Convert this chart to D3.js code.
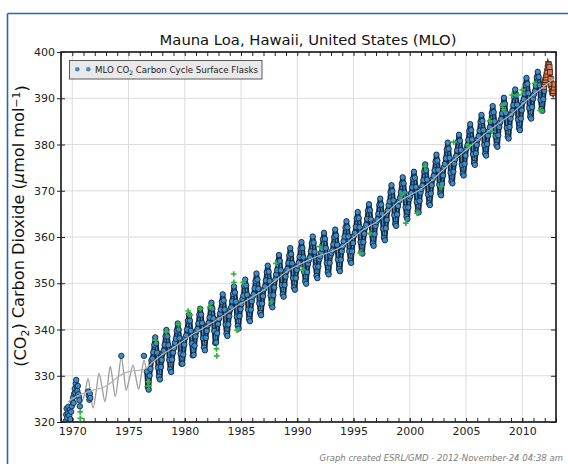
<!DOCTYPE html>
<html><head><meta charset="utf-8">
<script src="https://cdn.jsdelivr.net/npm/d3@7"></script>
<style>body{margin:0;background:#fff}svg{display:block}</style>
</head><body>
<svg id="c" width="568" height="464"></svg>
<script>
// ---------------- data ----------------
const xTickYears = [1970, 1975, 1980, 1985, 1990, 1995, 2000, 2005, 2010];
const yTicks = [320, 330, 340, 350, 360, 370, 380, 390, 400];

const flaskYears = [1976,1977,1978,1979,1980,1981,1982,1983,1984,1985,1986,1987,1988,1989,1990,1991,1992,1993,1994,1995,1996,1997,1998,1999,2000,2001,2002,2003,2004,2005,2006,2007,2008,2009,2010,2011];
const flaskMonthly = [
[null,null,null,null,334.3,null,null,330.9,327.6,327.0,330.0,331.5],
[333.3,333.7,335.1,336.7,338.3,337.0,335.0,331.8,329.8,329.2,331.9,333.4],
[334.9,335.4,336.7,338.5,339.9,338.5,336.6,333.4,331.4,330.8,333.5,335.0],
[336.0,337.1,338.0,339.7,341.3,340.0,338.1,334.8,332.6,332.6,334.6,336.7],
[338.2,338.7,340.0,341.9,343.2,341.9,339.7,337.0,334.4,334.5,336.5,338.5],
[339.6,340.1,341.3,343.2,344.5,343.2,341.4,338.1,336.1,335.5,338.2,339.7],
[340.9,341.4,342.6,344.6,345.8,344.5,342.4,339.7,337.1,337.2,339.2,341.2],
[342.3,343.4,344.3,346.0,347.6,346.3,344.3,341.1,339.1,338.6,341.1,342.9],
[344.3,344.8,346.1,347.7,349.3,348.0,346.0,342.8,340.8,340.2,342.9,344.4],
[345.5,346.6,347.3,349.4,350.8,349.5,347.5,344.3,342.3,341.8,344.3,346.1],
[347.1,347.6,348.9,350.5,352.1,350.8,348.8,345.6,343.6,343.1,345.6,347.2],
[348.7,349.3,350.6,352.4,353.8,352.5,350.5,347.4,345.3,344.8,347.4,349.1],
[350.8,351.9,352.8,354.7,356.1,354.8,352.8,349.6,347.6,347.1,349.6,351.4],
[352.6,353.1,354.4,356.0,357.6,356.3,354.3,351.1,349.1,348.6,351.1,352.9],
[353.8,354.4,355.7,357.5,358.9,357.6,355.6,352.4,350.4,349.9,352.4,354.2],
[355.0,355.6,356.9,358.7,360.1,358.8,356.8,353.6,351.6,351.1,353.6,355.2],
[355.8,356.6,357.4,359.5,360.9,359.6,357.6,354.4,352.4,351.9,354.4,356.0],
[356.5,357.1,358.4,360.0,361.6,360.3,358.3,355.1,353.1,352.6,355.1,356.9],
[358.0,359.1,360.1,362.0,363.4,362.1,360.1,356.9,354.9,354.4,356.9,358.7],
[360.3,360.9,362.2,364.0,365.4,364.1,362.1,358.9,356.9,356.4,358.9,360.7],
[362.0,362.6,363.9,365.7,367.1,365.8,363.8,360.6,358.6,358.1,360.6,362.4],
[363.2,363.8,365.0,366.9,368.3,367.0,365.0,361.8,359.8,359.3,361.9,363.7],
[365.7,366.8,367.7,369.7,371.2,369.9,367.9,364.7,362.8,362.4,364.9,366.7],
[367.8,368.4,369.7,371.5,372.9,371.6,369.6,366.4,364.4,363.9,366.4,368.2],
[368.8,369.5,370.7,372.6,374.1,372.8,370.8,367.6,365.7,365.3,367.8,369.6],
[370.4,371.1,372.3,374.2,375.7,374.4,372.4,369.2,367.3,366.9,369.4,371.2],
[372.5,373.2,374.4,376.3,377.8,376.5,374.5,371.3,369.4,369.0,371.5,373.3],
[375.1,375.8,377.0,378.9,380.4,379.1,377.1,373.9,372.0,371.6,374.1,375.9],
[376.8,377.5,378.7,380.6,382.1,380.8,378.8,375.6,373.7,373.3,375.8,377.6],
[379.1,379.8,381.0,382.9,384.4,383.1,381.1,377.9,376.0,375.6,378.1,379.9],
[381.1,381.8,383.0,384.9,386.4,385.1,383.1,379.9,378.0,377.6,380.1,381.9],
[383.0,383.7,384.9,386.8,388.3,387.0,385.0,381.8,379.9,379.5,382.0,383.8],
[384.8,385.5,386.7,388.6,390.1,388.8,386.8,383.6,381.7,381.3,383.8,385.6],
[386.6,387.3,388.5,390.4,391.9,390.6,388.6,385.4,383.5,383.1,385.6,387.4],
[389.1,389.8,391.0,392.9,394.4,393.1,391.1,387.9,386.0,385.6,388.1,389.9],
[390.8,391.5,392.7,394.5,395.7,394.6,392.8,389.6,387.7,387.3,389.8,391.6]
];

// early, irregular flask samples [decimal year, ppm]
const earlyFlask = [
[1969.42,320.2],[1969.46,321.6],[1969.50,322.9],[1969.55,320.9],[1969.60,321.9],[1969.66,323.3],
[1969.72,321.4],[1969.78,322.6],[1969.84,320.6],[1969.90,322.2],[1969.96,323.4],
[1970.02,324.4],[1970.07,325.3],[1970.12,324.1],[1970.17,326.1],[1970.22,327.2],[1970.27,326.3],
[1970.31,328.3],[1970.35,329.1],[1970.40,327.6],[1970.45,326.7],[1970.50,327.8],[1970.55,326.0],
[1970.60,325.4],[1970.64,324.7],[1970.68,323.4],
[1971.42,326.6],[1971.47,325.7],[1971.52,324.8],[1971.57,326.1],[1971.60,325.2],
[1974.36,334.3]
];

// preliminary samples (orange squares)
const prelimFlask = [
[2011.92,392.4],[2011.97,393.1],[2012.02,393.6],[2012.07,394.0],[2012.12,394.5],[2012.17,395.1],
[2012.22,395.8],[2012.27,396.6],[2012.32,397.4],[2012.37,397.1],[2012.42,396.7],[2012.47,395.6],
[2012.52,394.2],[2012.57,392.9],[2012.62,392.0],[2012.67,391.4],[2012.72,391.1],[2012.77,391.6],
[2012.82,392.3],[2012.87,393.0]
];

// flagged samples (green plus)
const flaggedFlask = [
[1970.70,322.2],[1970.72,320.8],[1976.75,328.7],[1976.78,327.8],[1977.40,337.7],[1978.35,339.5],
[1979.45,341.1],[1980.30,344.0],[1980.50,343.1],[1981.40,344.5],[1982.25,344.9],[1982.82,335.8],
[1982.85,334.3],[1984.35,352.0],[1984.37,350.2],[1984.65,339.8],[1985.20,350.2],[1987.70,346.0],
[1988.10,354.3],[1990.50,352.9],[1992.00,357.9],[1995.60,356.5],[1996.45,360.8],[1999.30,369.1],
[1999.65,363.0],[2000.65,365.1],[2001.35,375.2],[2002.80,370.9],[2003.90,380.5],[2005.20,379.9],
[2007.10,385.1],[2007.30,382.8],[2008.20,388.5],[2008.35,387.5],[2009.10,390.7],[2009.65,390.7],
[2010.00,391.8],[2011.10,393.2],[2011.60,387.3]
];

// smooth seasonal fit visible in the data gap
const fitCurve = [
[1970.55,327.0],[1970.80,324.2],[1971.10,326.0],[1971.40,329.4],[1971.62,326.4],[1971.85,323.0],
[1972.12,326.5],[1972.38,330.5],[1972.64,327.6],[1972.90,324.4],[1973.14,328.0],[1973.38,332.0],
[1973.60,328.9],[1973.83,325.5],[1974.10,329.8],[1974.36,334.1],[1974.58,330.6],[1974.80,326.9],
[1975.10,329.6],[1975.40,332.3],[1975.65,329.7],[1975.90,327.1],[1976.14,330.2],[1976.38,333.4],
[1976.60,331.0],[1976.80,328.4]
];

// long-term trend
const trendCurve = [
[1969.6,324.4],[1970.0,325.0],[1970.5,325.7],[1971.0,326.2],[1971.5,326.6],[1972.0,327.0],[1972.5,327.3],
[1973.0,327.8],[1973.5,328.6],[1974.0,329.6],[1974.5,330.4],[1975.0,330.9],[1975.5,331.1],[1976.0,331.2],
[1976.5,331.5],[1977.0,332.6],[1978,334.6],[1979,336.1],[1980,337.8],[1981,339.4],[1982,340.8],[1983,342.3],
[1984,344.0],[1985,345.6],[1986,347.0],[1987,348.5],[1988,350.5],[1989,352.4],[1990,353.8],[1991,355.0],
[1992,356.0],[1993,356.8],[1994,358.0],[1995,359.9],[1996,361.8],[1997,363.2],[1998,365.3],[1999,367.6],
[2000,369.0],[2001,370.4],[2002,372.3],[2003,374.6],[2004,376.8],[2005,378.8],[2006,380.9],[2007,382.9],
[2008,384.7],[2009,386.5],[2010,388.7],[2011,390.8],[2012,392.7],[2012.9,394.4]
];

// ---------------- drawing ----------------
const W = 568, H = 464;
const M = {l: 61, r: 556, t: 52, b: 422};
const FONT = "'DejaVu Sans', Verdana, sans-serif";
const svg = d3.select('#c');

const x = d3.scaleLinear().domain([1969, 2013]).range([M.l, M.r]);
const y = d3.scaleLinear().domain([320, 400]).range([M.b, M.t]);

function fit(sel, target) {
  const w = sel.node().getBBox().width;
  const s = parseFloat(sel.style('font-size'));
  sel.style('font-size', (s * target / w) + 'px');
}

// outer blue frame
svg.append('line').attr('x1', 7.5).attr('x2', W).attr('y1', 13.5).attr('y2', 13.5)
  .attr('stroke', '#2a62c4').attr('stroke-width', 1.6);
svg.append('line').attr('x1', 7.5).attr('x2', 7.5).attr('y1', 13.5).attr('y2', H)
  .attr('stroke', '#2a62c4').attr('stroke-width', 1.6);

// grid
const grid = svg.append('g').attr('stroke', '#dcdcdc').attr('stroke-width', 1);
grid.selectAll('.gx').data(xTickYears).join('line')
  .attr('x1', d => x(d)).attr('x2', d => x(d)).attr('y1', M.t).attr('y2', M.b);
grid.selectAll('.gy').data(yTicks).join('line')
  .attr('x1', M.l).attr('x2', M.r).attr('y1', d => y(d)).attr('y2', d => y(d));

// clip
svg.append('clipPath').attr('id', 'clip').append('rect')
  .attr('x', M.l).attr('y', M.t).attr('width', M.r - M.l).attr('height', M.b - M.t);
const plot = svg.append('g').attr('clip-path', 'url(#clip)');

// seasonal fit in gap
plot.append('path').datum(fitCurve)
  .attr('d', d3.line().x(d => x(d[0])).y(d => y(d[1])).curve(d3.curveCatmullRom.alpha(0.5)))
  .attr('fill', 'none').attr('stroke', '#9c9c9c').attr('stroke-width', 1.3);

// monthly flask points
const flaskPts = [];
flaskYears.forEach((yr, i) => flaskMonthly[i].forEach((v, j) => flaskPts.push({t: yr + (j + 0.5) / 12, v})));

const BLUE = '#3a8dca', EDGE = '#17263a';
const monthLine = d3.line().defined(d => d.v != null).x(d => x(d.t)).y(d => y(d.v));
plot.append('path').datum(flaskPts).attr('d', monthLine)
  .attr('fill', 'none').attr('stroke', EDGE).attr('stroke-width', 5).attr('stroke-linejoin', 'round');
plot.append('path').datum(flaskPts).attr('d', monthLine)
  .attr('fill', 'none').attr('stroke', BLUE).attr('stroke-width', 1.4).attr('stroke-linejoin', 'round');

plot.selectAll('.fp').data(flaskPts.filter(d => d.v != null)).join('circle')
  .attr('cx', d => x(d.t)).attr('cy', d => y(d.v)).attr('r', 2.7)
  .attr('fill', BLUE).attr('stroke', EDGE).attr('stroke-width', 0.9);

plot.selectAll('.ep').data(earlyFlask).join('circle')
  .attr('cx', d => x(d[0])).attr('cy', d => y(d[1])).attr('r', 2.7)
  .attr('fill', BLUE).attr('stroke', EDGE).attr('stroke-width', 0.9);

// preliminary (orange squares)
plot.append('path').datum(prelimFlask)
  .attr('d', d3.line().x(d => x(d[0])).y(d => y(d[1])))
  .attr('fill', 'none').attr('stroke', '#3a2418').attr('stroke-width', 3.5);
plot.selectAll('.pp').data(prelimFlask).join('rect')
  .attr('x', d => x(d[0]) - 2.6).attr('y', d => y(d[1]) - 2.6).attr('width', 5.2).attr('height', 5.2)
  .attr('fill', '#dc7850').attr('stroke', '#3a2418').attr('stroke-width', 0.8);

// flagged (green plus)
plot.selectAll('.gp').data(flaggedFlask).join('path')
  .attr('transform', d => `translate(${x(d[0])},${y(d[1])})`)
  .attr('d', 'M-2.8,0H2.8M0,-2.8V2.8')
  .attr('stroke', '#2fb53c').attr('stroke-width', 1.7).attr('fill', 'none');

// trend on top
plot.append('path').datum(trendCurve)
  .attr('d', d3.line().x(d => x(d[0])).y(d => y(d[1])).curve(d3.curveMonotoneX))
  .attr('fill', 'none').attr('stroke', '#b4b4b4').attr('stroke-width', 1.2);

// axes
const axisColor = '#222';
const minorYears = d3.range(1969, 2014);
function styleAxis(g) {
  g.select('.domain').remove();
  g.selectAll('line').attr('stroke', axisColor).attr('stroke-width', 1);
  g.selectAll('text').style('font-family', FONT).style('font-size', '11px').attr('fill', '#222');
}
svg.append('g').attr('transform', `translate(0,${M.b})`)
  .call(d3.axisBottom(x).tickValues(minorYears).tickSizeInner(-4).tickSizeOuter(0).tickFormat(''))
  .call(styleAxis);
svg.append('g').attr('transform', `translate(0,${M.b})`)
  .call(d3.axisBottom(x).tickValues(xTickYears).tickSizeInner(-4).tickSizeOuter(0).tickPadding(5).tickFormat(d3.format('d')))
  .call(styleAxis);
svg.append('g').attr('transform', `translate(0,${M.t})`)
  .call(d3.axisTop(x).tickValues(minorYears).tickSizeInner(-4).tickSizeOuter(0).tickFormat(''))
  .call(styleAxis);
svg.append('g').attr('transform', `translate(${M.l},0)`)
  .call(d3.axisLeft(y).tickValues(yTicks).tickSizeInner(4).tickSizeOuter(0).tickPadding(2).tickFormat(d3.format('d')))
  .call(styleAxis);
svg.append('g').attr('transform', `translate(${M.l},0)`)
  .call(d3.axisLeft(y).tickValues(yTicks).tickSizeInner(-4).tickSizeOuter(0).tickFormat(''))
  .call(styleAxis);
svg.append('g').attr('transform', `translate(${M.r},0)`)
  .call(d3.axisRight(y).tickValues(yTicks).tickSizeInner(-5).tickSizeOuter(0).tickFormat(''))
  .call(styleAxis);

svg.append('rect').attr('x', M.l).attr('y', M.t).attr('width', M.r - M.l).attr('height', M.b - M.t)
  .attr('fill', 'none').attr('stroke', axisColor).attr('stroke-width', 1.7);

// legend
svg.append('rect').attr('x', 69.5).attr('y', 60.5).attr('width', 192.5).attr('height', 18.5)
  .attr('fill', '#e9e9e9').attr('stroke', '#5a5a5a').attr('stroke-width', 1);
[77.3, 88.3].forEach(cx => svg.append('circle').attr('cx', cx).attr('cy', 69.2).attr('r', 2.3)
  .attr('fill', BLUE).attr('stroke', 'none'));
const lt = svg.append('text').attr('x', 95).attr('y', 73.3)
  .style('font-family', FONT).style('font-size', '10px').attr('fill', '#222');
lt.append('tspan').text('MLO CO');
lt.append('tspan').text('2').style('font-size', '0.7em').attr('dy', '0.25em');
lt.append('tspan').text(' Carbon Cycle Surface Flasks').attr('dy', '-0.25em');
fit(lt, 163);

// title
const title = svg.append('text').attr('x', 308).attr('y', 45).attr('text-anchor', 'middle')
  .style('font-family', FONT).style('font-size', '15px').attr('fill', '#111')
  .text('Mauna Loa, Hawaii, United States (MLO)');
fit(title, 297);

// y label
const yl = svg.append('text').attr('transform', 'translate(26,226) rotate(-90)').attr('text-anchor', 'middle')
  .style('font-family', FONT).style('font-size', '15px').attr('fill', '#111');
yl.append('tspan').text('(CO');
yl.append('tspan').text('2').style('font-size', '0.68em').attr('dy', '0.3em');
yl.append('tspan').text(') Carbon Dioxide (').attr('dy', '-0.3em');
yl.append('tspan').text('μ').style('font-style', 'italic');
yl.append('tspan').text('mol mol');
yl.append('tspan').text('−1').style('font-size', '0.68em').attr('dy', '-0.45em');
yl.append('tspan').text(')').attr('dy', '0.45em');
fit(yl, 282);

// footer
const ft = svg.append('text').attr('x', 563).attr('y', 461).attr('text-anchor', 'end')
  .style('font-family', FONT).style('font-size', '10px').style('font-style', 'italic').attr('fill', '#7c7c7c')
  .text('Graph created ESRL/GMD - 2012-November-24 04:38 am');
fit(ft, 244);
</script>
</body></html>
